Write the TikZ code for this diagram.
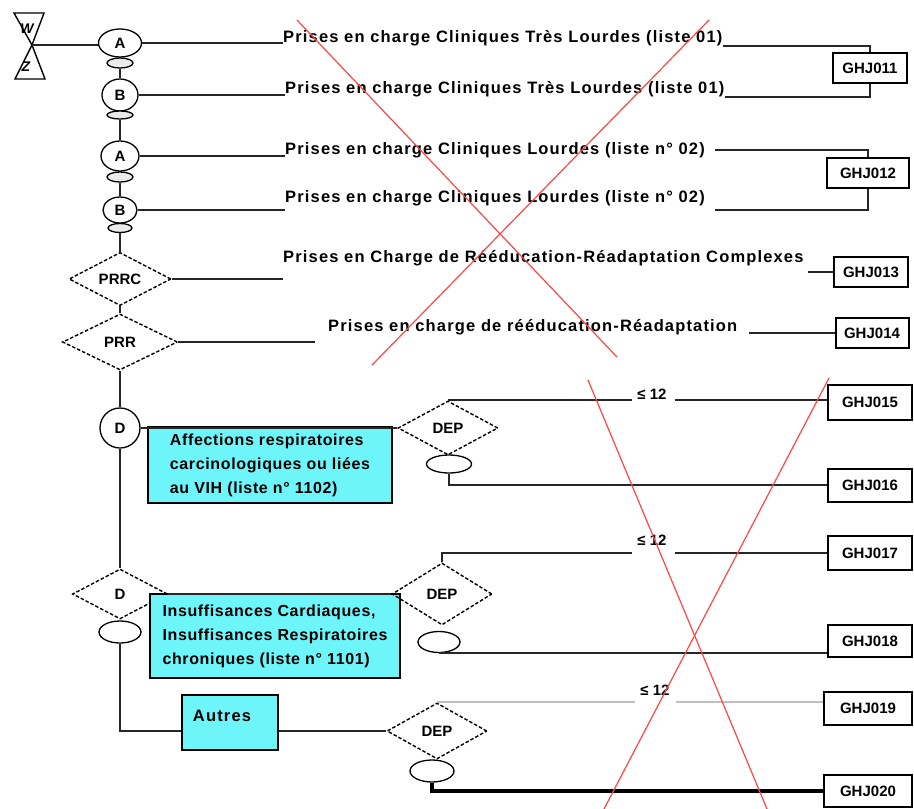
\documentclass[tikz,border=0pt]{standalone}
\usepackage{fontspec}
\setmainfont{Liberation Sans}
\newfontfamily\spacedfont{Liberation Sans}[LetterSpace=7]
\newfontfamily\boxfont{Liberation Sans}[LetterSpace=4]
\usepackage{tikz}
\usetikzlibrary{shapes.geometric}
\definecolor{boxcyan}{RGB}{110,245,250}
\definecolor{xred}{RGB}{255,70,70}

\begin{document}
\begin{tikzpicture}[x=1pt, y=-1pt,
    every node/.style={inner sep=0pt},
    wire/.style={line width=1.8pt, black!85},
    oval/.style={draw, line width=1.3pt, ellipse, font=\bfseries\fontsize{15}{15}\selectfont},
    tick/.style={draw, line width=1.3pt, ellipse, fill=black!8},
    choice/.style={draw, dash pattern=on 3.5pt off 2pt, line width=1.4pt, diamond, font=\bfseries\fontsize{15}{15}\selectfont},
    ghj/.style={draw, line width=2pt, font=\bfseries\fontsize{15}{15}\selectfont},
    txt/.style={font=\spacedfont\bfseries\fontsize{16.5}{24}\selectfont},
    lbl/.style={txt, anchor=west},
    cbox/.style={draw, line width=2pt, fill=boxcyan, align=left, font=\boxfont\bfseries\fontsize{16}{24}\selectfont},
    le/.style={font=\bfseries\fontsize{15}{15}\selectfont}]
    \useasboundingbox (0,0) rectangle (914,809);

    % hourglass
    \coordinate (hg) at (32,45);
    \draw[line width=1.4pt] (14,13) -- (44,13) -- (hg) -- (45,79) -- (15,79) -- (hg) -- cycle;
    \node[font=\bfseries\itshape\fontsize{14}{14}\selectfont] (hgw) at (27,29) {W};
    \node[font=\bfseries\itshape\fontsize{14}{14}\selectfont] (hgz) at (26,67) {Z};

    \node[oval, minimum width=43pt, minimum height=28pt] (a1) at (120,43) {A};
    \node[tick, minimum width=26pt, minimum height=10pt] (a1t) at (120,63) {};
    \node[oval, minimum width=36pt, minimum height=32pt] (b1) at (120,95) {B};
    \node[tick, minimum width=26pt, minimum height=8pt] (b1t) at (120,115) {};
    \node[oval, minimum width=38pt, minimum height=30pt] (a2) at (120,156) {A};
    \node[tick, minimum width=26pt, minimum height=10pt] (a2t) at (120,177) {};
    \node[oval, minimum width=34pt, minimum height=26pt] (b2) at (120,210) {B};
    \node[tick, minimum width=24pt, minimum height=9pt] (b2t) at (120,228) {};
    \node[choice, minimum width=102pt, minimum height=47pt] (prrc) at (120,279) {PRRC};
    \node[choice, minimum width=115pt, minimum height=56pt] (prr) at (120,342) {PRR};
    \node[oval, circle, minimum size=40pt] (dc) at (120,428) {D};
    \node[choice, minimum width=95pt, minimum height=50pt] (dd) at (120,594) {D};
    \node[tick, minimum width=42pt, minimum height=22pt, fill=none] (ddt) at (120,632) {};

    \node[cbox, minimum width=244pt, minimum height=76pt] (aff) at (270,465)
        {Affections respiratoires\\carcinologiques ou liées\\au VIH (liste n° 1102)};
    \node[cbox, minimum width=250pt, minimum height=84pt] (ins) at (275,636)
        {Insuffisances Cardiaques,\\Insuffisances Respiratoires\\chroniques (liste n° 1101)};
    \node[cbox, minimum width=96pt, minimum height=55pt] (aut) at (230,722) {};
    \node[txt] (auttxt) at (222,716) {Autres};

    \node[choice, minimum width=100pt, minimum height=54pt] (dep1) at (448,428) {DEP};
    \node[tick, minimum width=45pt, minimum height=18pt, fill=none] (dep1t) at (449,464) {};
    \node[choice, minimum width=100pt, minimum height=62pt] (dep2) at (442,594) {DEP};
    \node[tick, minimum width=42pt, minimum height=21pt, fill=none] (dep2t) at (439,642) {};
    \node[choice, minimum width=100pt, minimum height=56pt] (dep3) at (437,731) {DEP};
    \node[tick, minimum width=44pt, minimum height=22pt, fill=none] (dep3t) at (432,771) {};

    \node[lbl] (l1) at (283,38) {Prises en charge Cliniques Très Lourdes (liste 01)};
    \node[lbl] (l2) at (285,89) {Prises en charge Cliniques Très Lourdes (liste 01)};
    \node[lbl] (l3) at (285,150) {Prises en charge Cliniques Lourdes (liste n° 02)};
    \node[lbl] (l4) at (285,198) {Prises en charge Cliniques Lourdes (liste n° 02)};
    \node[lbl] (l5) at (283,258) {Prises en Charge de Rééducation-Réadaptation Complexes};
    \node[lbl] (l6) at (328,327) {Prises en charge de rééducation-Réadaptation};

    \node[ghj, minimum width=74pt, minimum height=30pt] (g11) at (870,68) {GHJ011};
    \node[ghj, minimum width=82pt, minimum height=30pt] (g12) at (868,173) {GHJ012};
    \node[ghj, minimum width=74pt, minimum height=30pt] (g13) at (871,272) {GHJ013};
    \node[ghj, minimum width=73pt, minimum height=30pt] (g14) at (872,333) {GHJ014};
    \node[ghj, minimum width=84pt, minimum height=35pt] (g15) at (870,402) {GHJ015};
    \node[ghj, minimum width=84pt, minimum height=33pt] (g16) at (870,485) {GHJ016};
    \node[ghj, minimum width=84pt, minimum height=34pt] (g17) at (870,553) {GHJ017};
    \node[ghj, minimum width=84pt, minimum height=32pt] (g18) at (870,641) {GHJ018};
    \node[ghj, minimum width=88pt, minimum height=33pt] (g19) at (868,708) {GHJ019};
    \node[ghj, minimum width=88pt, minimum height=32pt] (g20) at (868,791) {GHJ020};

    \node[le] (le1) at (652,394) {≤ 12};
    \node[le] (le2) at (652,540) {≤ 12};
    \node[le] (le3) at (655,690) {≤ 12};

    % spine
    \draw[wire] (hg) -- (hg -| a1.west);
    \draw[wire] (a1t.south) -- (b1.north);
    \draw[wire] (b1t.south) -- (a2.north);
    \draw[wire] (a2t.south) -- (b2.north);
    \draw[wire] (b2t.south) -- (prrc.north);
    \draw[wire] (prrc.south) -- (prr.north);
    \draw[wire] (prr.south) -- (dc.north);
    \draw[wire] (dc.south) -- (dd.north);
    \draw[wire] (ddt.south) |- (dep3.west -| aut.west);
    \draw[wire] (dep3.west -| aut.east) -- (dep3.west);

    \draw[wire] (a1.east) -- (a1.east -| l1.west);
    \draw[wire] (l1.south east) -| (g11.north);
    \draw[wire] (b1.east) -- (b1.east -| l2.west);
    \draw[wire] (l2.south east) -| (g11.south);
    \draw[wire] (a2.east) -- (a2.east -| l3.west);
    \draw[wire] ([xshift=10pt]l3.east) -| (g12.north);
    \draw[wire] (b2.east) -- (b2.east -| l4.west);
    \draw[wire] ([xshift=10pt]l4.east |- b2.east) -| (g12.south);
    \draw[wire] (prrc.east) -- (prrc.east -| l5.west);
    \draw[wire] ([xshift=4pt]l5.east |- g13.west) -- (g13.west);
    \draw[wire] (prr.east) -- ([xshift=-13pt]prr.east -| l6.west);
    \draw[wire] ([xshift=12pt]l6.east |- g14.west) -- (g14.west);

    \draw[wire] (dc.east) -- (dep1.west);
    \draw[wire] (dd.east) -- (dep2.west);

    \draw[wire] (dep1.north) -- ([xshift=-5pt]dep1.north -| le1.west);
    \draw[wire] ([xshift=8pt]dep1.north -| le1.east) -- (dep1.north -| g15.west);
    \draw[wire] (dep1t.south) |- (g16.west);
    \draw[wire] (dep2.north) |- ([xshift=-5pt]g17.west -| le2.west);
    \draw[wire] ([xshift=8pt]le2.east |- g17.west) -- (g17.west);
    \draw[wire] (dep2t.south) -- (dep2t.south -| g18.west);
    \draw[line width=1.8pt, black!25] (dep3.north) -- ([xshift=-5pt]dep3.north -| le3.west);
    \draw[line width=1.8pt, black!25] ([xshift=6pt]dep3.north -| le3.east) -- (dep3.north -| g19.west);
    \draw[line width=3.5pt] (dep3t.south) |- (g20.west);

    % red crosses
    \draw[xred, line width=1.2pt] (297,20) -- (617,357);
    \draw[xred, line width=1.2pt] (709,20) -- (372,365);
    \draw[xred, line width=1.2pt] (588,380) -- (767,809);
    \draw[xred, line width=1.2pt] (829,378) -- (604,809);
\end{tikzpicture}
\end{document}
